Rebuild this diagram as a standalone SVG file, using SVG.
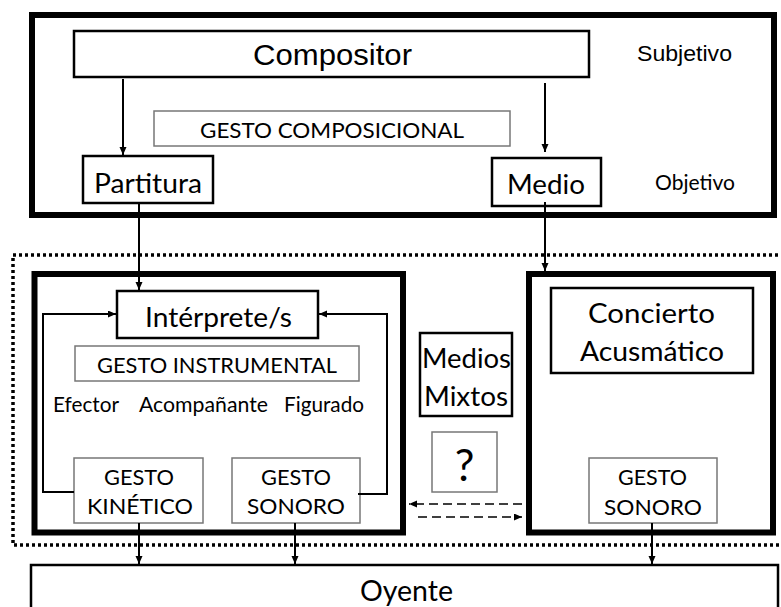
<svg xmlns="http://www.w3.org/2000/svg" width="781" height="607" viewBox="0 0 781 607">
<defs>
<marker id="ah" markerUnits="userSpaceOnUse" markerWidth="9" markerHeight="8" refX="8" refY="3.5" orient="auto"><path d="M0,0 L8,3.5 L0,7 z" fill="#000"/></marker>
<style>
.thick{fill:none;stroke:#000;stroke-width:6}
.box{fill:#fff;stroke:#000;stroke-width:2.5}
.gbox{fill:#fff;stroke:#777;stroke-width:1.5}
.dot{fill:none;stroke:#000;stroke-width:3.5;stroke-dasharray:3 3}
.ln{fill:none;stroke:#000;stroke-width:2}
.dash{fill:none;stroke:#000;stroke-width:1.6;stroke-dasharray:9 5}
.h{font-family:"Liberation Sans",Arial,sans-serif;fill:#000}
.g{font-family:Lato,"Open Sans",sans-serif;fill:#000}
</style>
</defs>
<rect width="781" height="607" fill="#fff"/>
<g id="marco-superior"><rect class="thick" x="32" y="15" width="742" height="200"/></g>
<g id="marco-mixto"><rect class="dot" x="13" y="255" width="790" height="290"/></g>
<g id="bloque-interprete"><rect class="thick" x="34.5" y="274" width="368.5" height="258.5"/></g>
<g id="bloque-acusmatico"><rect class="thick" x="529" y="274" width="244" height="258.5"/></g>
<g id="compositor"><rect class="box" x="74" y="31" width="515" height="46"/><text class="h" x="253" y="65" font-size="29" textLength="159" lengthAdjust="spacingAndGlyphs">Compositor</text></g>
<g id="subjetivo"><text class="h" x="637" y="61" font-size="22" textLength="95" lengthAdjust="spacingAndGlyphs">Subjetivo</text></g>
<g id="gesto-composicional"><rect class="gbox" x="154" y="111" width="356" height="35"/><text class="g" x="200" y="138" font-size="22" textLength="264" lengthAdjust="spacingAndGlyphs">GESTO COMPOSICIONAL</text></g>
<g id="partitura"><rect class="box" x="83" y="156" width="130" height="47"/><text class="g" x="94" y="193" font-size="27" textLength="108" lengthAdjust="spacingAndGlyphs">Partitura</text></g>
<g id="medio"><rect class="box" x="492" y="158" width="109" height="48"/><text class="g" x="507" y="194" font-size="27" textLength="78" lengthAdjust="spacingAndGlyphs">Medio</text></g>
<g id="objetivo"><text class="g" x="655" y="190" font-size="21" textLength="80" lengthAdjust="spacingAndGlyphs">Objetivo</text></g>
<g id="interprete"><rect class="box" x="117" y="291" width="201" height="47"/><text class="g" x="145" y="327" font-size="27" textLength="147" lengthAdjust="spacingAndGlyphs">Intérprete/s</text></g>
<g id="gesto-instrumental"><rect class="gbox" x="75" y="346" width="284" height="35"/><text class="g" x="97" y="373" font-size="22" textLength="240" lengthAdjust="spacingAndGlyphs">GESTO INSTRUMENTAL</text></g>
<g id="tipos"><text class="g" x="53" y="412" font-size="21" textLength="66" lengthAdjust="spacingAndGlyphs">Efector</text><text class="g" x="139" y="412" font-size="21" textLength="129" lengthAdjust="spacingAndGlyphs">Acompañante</text><text class="g" x="284" y="412" font-size="21" textLength="80" lengthAdjust="spacingAndGlyphs">Figurado</text></g>
<g id="gesto-kinetico"><rect class="gbox" x="74" y="458" width="129" height="65"/><text class="g" x="104" y="485" font-size="22" textLength="70" lengthAdjust="spacingAndGlyphs">GESTO</text><text class="g" x="87" y="514" font-size="22" textLength="106" lengthAdjust="spacingAndGlyphs">KINÉTICO</text></g>
<g id="gesto-sonoro"><rect class="gbox" x="232" y="458" width="128" height="65"/><text class="g" x="261" y="485" font-size="22" textLength="70" lengthAdjust="spacingAndGlyphs">GESTO</text><text class="g" x="247" y="514" font-size="22" textLength="98" lengthAdjust="spacingAndGlyphs">SONORO</text></g>
<g id="medios-mixtos"><rect class="box" x="420" y="333" width="92" height="83" stroke-width="2"/><text class="g" x="422" y="368" font-size="27" textLength="89" lengthAdjust="spacingAndGlyphs">Medios</text><text class="g" x="424" y="406" font-size="27" textLength="84" lengthAdjust="spacingAndGlyphs">Mixtos</text></g>
<g id="interrogacion"><rect class="gbox" x="432" y="432" width="65" height="60"/><text class="g" x="464.5" y="481" font-size="44" text-anchor="middle">?</text></g>
<g id="concierto"><rect class="box" x="551" y="288" width="202" height="85"/><text class="g" x="588" y="323" font-size="27" textLength="127" lengthAdjust="spacingAndGlyphs">Concierto</text><text class="g" x="580" y="361" font-size="27" textLength="144" lengthAdjust="spacingAndGlyphs">Acusmático</text></g>
<g id="gesto-sonoro-2"><rect class="gbox" x="589" y="458" width="128" height="65"/><text class="g" x="618" y="485" font-size="22" textLength="69" lengthAdjust="spacingAndGlyphs">GESTO</text><text class="g" x="604" y="515" font-size="22" textLength="98" lengthAdjust="spacingAndGlyphs">SONORO</text></g>
<g id="oyente"><rect class="box" x="31" y="565" width="747" height="60" stroke-width="2"/><text class="g" x="360" y="601" font-size="29" textLength="93" lengthAdjust="spacingAndGlyphs">Oyente</text></g>
<g id="conectores">
<line class="ln" x1="123" y1="79" x2="123" y2="155" marker-end="url(#ah)"/>
<line class="ln" x1="545" y1="83" x2="545" y2="152" marker-end="url(#ah)"/>
<line class="ln" x1="139" y1="203" x2="139" y2="290" marker-end="url(#ah)"/>
<line class="ln" x1="545" y1="202" x2="545" y2="271" marker-end="url(#ah)"/>
<polyline class="ln" points="74,492 43,492 43,314 116,314" marker-end="url(#ah)"/>
<polyline class="ln" points="358,494 387,494 387,314 319,314" marker-end="url(#ah)"/>
<line class="ln" x1="139" y1="523" x2="139" y2="564" marker-end="url(#ah)"/>
<line class="ln" x1="295" y1="523" x2="295" y2="564" marker-end="url(#ah)"/>
<line class="ln" x1="652" y1="523" x2="652" y2="564" marker-end="url(#ah)"/>
<line class="dash" x1="522" y1="504" x2="409" y2="504" marker-end="url(#ah)"/>
<line class="dash" x1="418" y1="517" x2="522" y2="517" marker-end="url(#ah)"/>
</g>
</svg>
